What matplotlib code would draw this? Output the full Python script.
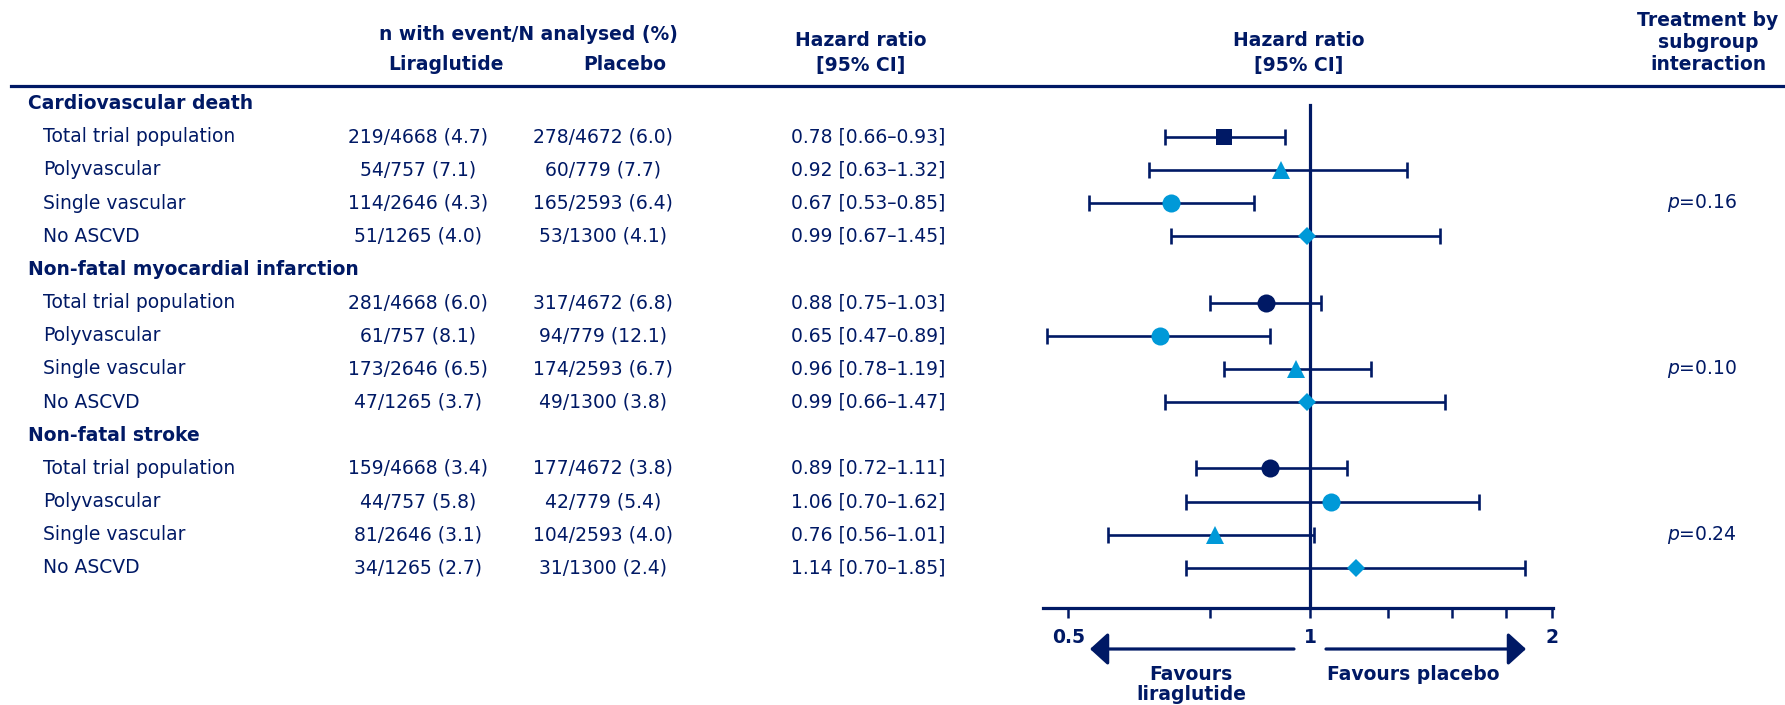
import matplotlib
matplotlib.use("Agg")
import matplotlib.pyplot as plt
from matplotlib.lines import Line2D
from matplotlib.ticker import FixedLocator, NullFormatter, FixedFormatter
import matplotlib.transforms as mtransforms

# ---------------- data ----------------
groups = ["Cardiovascular death", "Non-fatal myocardial infarction", "Non-fatal stroke"]
subgroups = ["Total trial population", "Polyvascular", "Single vascular", "No ASCVD"]

lira_n = [219, 54, 114, 51, 281, 61, 173, 47, 159, 44, 81, 34]
lira_N = [4668, 757, 2646, 1265, 4668, 757, 2646, 1265, 4668, 757, 2646, 1265]
lira_pct = [4.7, 7.1, 4.3, 4.0, 6.0, 8.1, 6.5, 3.7, 3.4, 5.8, 3.1, 2.7]
plac_n = [278, 60, 165, 53, 317, 94, 174, 49, 177, 42, 104, 31]
plac_N = [4672, 779, 2593, 1300, 4672, 779, 2593, 1300, 4672, 779, 2593, 1300]
plac_pct = [6.0, 7.7, 6.4, 4.1, 6.8, 12.1, 6.7, 3.8, 3.8, 5.4, 4.0, 2.4]

hr = [0.78, 0.92, 0.67, 0.99, 0.88, 0.65, 0.96, 0.99, 0.89, 1.06, 0.76, 1.14]
hr_lo = [0.66, 0.63, 0.53, 0.67, 0.75, 0.47, 0.78, 0.66, 0.72, 0.70, 0.56, 0.70]
hr_hi = [0.93, 1.32, 0.85, 1.45, 1.03, 0.89, 1.19, 1.47, 1.11, 1.62, 1.01, 1.85]

p_values = ["0.16", "0.10", "0.24"]

major_ticks = [0.5, 1, 2]
major_labels = ["0.5", "1", "2"]
minor_ticks = [0.75, 1.25, 1.5, 1.75]

# ---------------- style ----------------
NAVY = "#001965"
LIGHT = "#0099D8"
markers = ["s", "^", "o", "D", "o", "o", "^", "D", "o", "o", "^", "D"]
mcolors = [NAVY, LIGHT, LIGHT, LIGHT, NAVY, LIGHT, LIGHT, LIGHT, NAVY, LIGHT, LIGHT, LIGHT]
msizes = {"s": 11.5, "o": 13, "^": 13, "D": 9.3}
FS = 13.5

W, H = 1785, 705
def fx(px):
    return px / W
def fy(py):
    return 1 - py / H

fig = plt.figure(figsize=(W / 100, H / 100), dpi=100)
fig.patch.set_facecolor("white")

ax = fig.add_axes([fx(1043), fy(608), fx(1553) - fx(1043), fy(88) - fy(608)])
ax.set_xscale("log")
ax.set_xlim(0.465, 2.003)
ax.set_ylim(15.21, -0.47)
ax.patch.set_alpha(0)
for s in ["left", "right", "top"]:
    ax.spines[s].set_visible(False)
ax.spines["bottom"].set_color(NAVY)
ax.spines["bottom"].set_linewidth(2.3)
ax.set_yticks([])

ax.xaxis.set_major_locator(FixedLocator(major_ticks))
ax.xaxis.set_major_formatter(FixedFormatter(major_labels))
ax.xaxis.set_minor_locator(FixedLocator(minor_ticks))
ax.xaxis.set_minor_formatter(NullFormatter())
ax.tick_params(axis="x", which="both", direction="out", length=7.5, width=1.8,
               color=NAVY, labelcolor=NAVY, labelsize=FS, pad=7)
for lab in ax.get_xticklabels():
    lab.set_fontweight("bold")

ax.axvline(1, ymin=0, ymax=0.967, color=NAVY, lw=2.3, zorder=2)

rows = [5 * g + 1 + k for g in range(len(groups)) for k in range(len(subgroups))]
heads = [5 * g for g in range(len(groups))]

xerr = [[h - l for h, l in zip(hr, hr_lo)], [u - h for h, u in zip(hr, hr_hi)]]
ax.errorbar(hr, rows, xerr=xerr, fmt="none", ecolor=NAVY, elinewidth=1.9,
            capsize=6, capthick=1.9, zorder=3)
for x, y, m, c in zip(hr, rows, markers, mcolors):
    ax.plot([x], [y], marker=m, markersize=msizes[m], color=c,
            markeredgewidth=0, linestyle="none", zorder=4)

# ---------------- text table ----------------
tr = mtransforms.blended_transform_factory(fig.transFigure, ax.transData)

for g, name in enumerate(groups):
    fig.text(fx(28), heads[g], name, transform=tr, ha="left", va="center",
             fontsize=FS, fontweight="bold", color=NAVY)

for i, y in enumerate(rows):
    fig.text(fx(43), y, subgroups[i % 4], transform=tr, ha="left", va="center",
             fontsize=FS, color=NAVY)
    fig.text(fx(418), y, f"{lira_n[i]}/{lira_N[i]} ({lira_pct[i]:.1f})", transform=tr,
             ha="center", va="center", fontsize=FS, color=NAVY)
    fig.text(fx(603), y, f"{plac_n[i]}/{plac_N[i]} ({plac_pct[i]:.1f})", transform=tr,
             ha="center", va="center", fontsize=FS, color=NAVY)
    fig.text(fx(868), y, f"{hr[i]:.2f} [{hr_lo[i]:.2f}\u2013{hr_hi[i]:.2f}]", transform=tr,
             ha="center", va="center", fontsize=FS, color=NAVY)

for g, p in enumerate(p_values):
    fig.text(fx(1702), rows[4 * g + 2], r"$\mathit{p}$=" + p, transform=tr,
             ha="center", va="center", fontsize=FS, color=NAVY)

# headers
def htext(x, y, s):
    fig.text(fx(x), fy(y), s, ha="center", va="center", fontsize=FS,
             fontweight="bold", color=NAVY)

htext(528, 35, "n with event/N analysed (%)")
htext(446, 65, "Liraglutide")
htext(625, 65, "Placebo")
htext(861, 41, "Hazard ratio")
htext(861, 65, "[95% CI]")
htext(1299, 41, "Hazard ratio")
htext(1299, 65, "[95% CI]")
htext(1708, 20, "Treatment by")
htext(1708, 42, "subgroup")
htext(1708, 65, "interaction")

fig.add_artist(Line2D([fx(11), fx(1785)], [fy(86), fy(86)], color=NAVY, lw=2.3))

# favours arrows
aprops = dict(arrowstyle="-|>,head_length=1.1,head_width=1.0", color=NAVY, lw=2.3,
              mutation_scale=10, shrinkA=0, shrinkB=0)
fig.add_artist(plt.Annotation("", xy=(fx(1090), fy(649)), xytext=(fx(1294), fy(649)),
                              xycoords="figure fraction", textcoords="figure fraction",
                              arrowprops=aprops))
fig.add_artist(plt.Annotation("", xy=(fx(1526), fy(649)), xytext=(fx(1326), fy(649)),
                              xycoords="figure fraction", textcoords="figure fraction",
                              arrowprops=aprops))
htext(1191, 675, "Favours")
htext(1191, 695, "liraglutide")
htext(1413, 675, "Favours placebo")

fig.savefig("out.png", dpi=100, facecolor="white")
